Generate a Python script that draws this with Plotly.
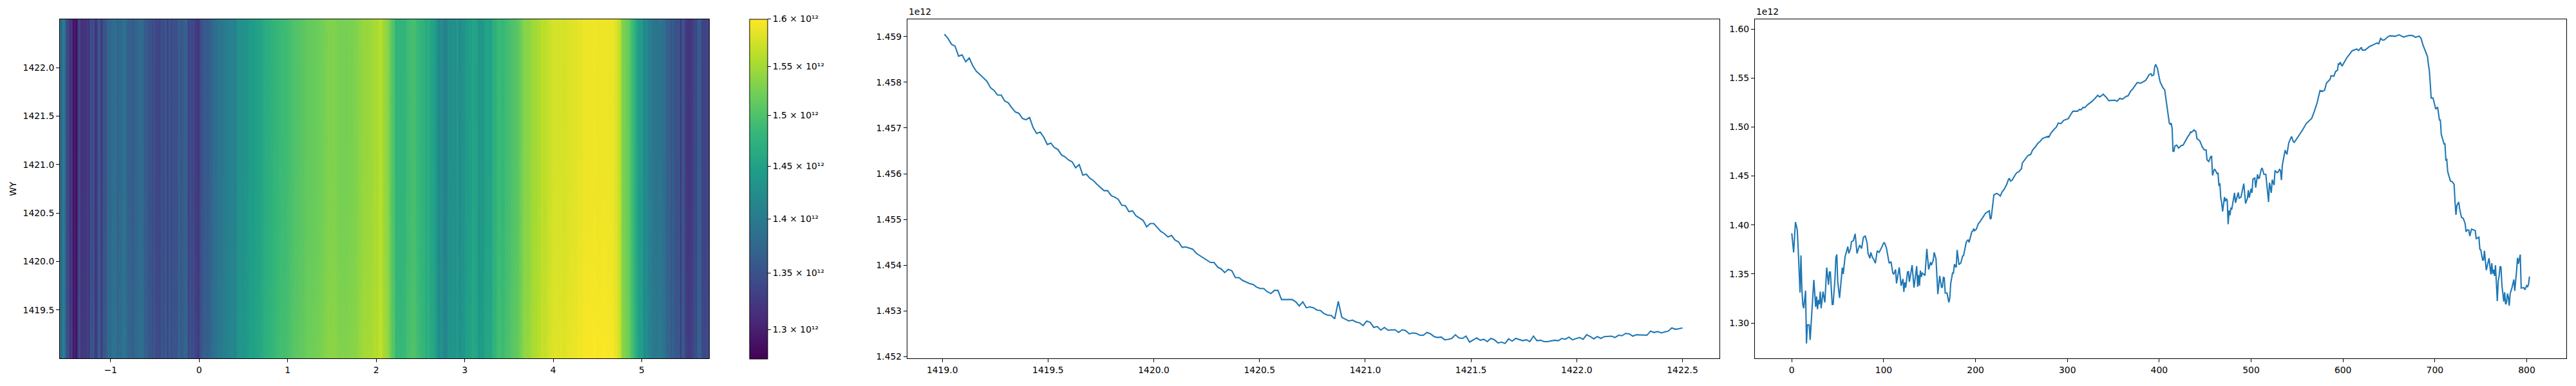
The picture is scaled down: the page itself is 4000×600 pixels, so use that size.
import numpy as np
import plotly.graph_objects as go

# profile along the wavenumber axis, averaged over WY (right panel and heatmap columns)
profile_idx = [
    0, 2, 4, 6, 7, 9, 10, 11, 12, 13, 15, 16, 17, 19, 20, 22, 24, 26, 27, 28, 29, 30, 31, 32, 34, 36, 38, 40, 41, 42,
    44, 45, 47, 48, 49, 50, 52, 55, 56, 58, 61, 62, 64, 65, 67, 69, 71, 73, 74, 76, 78, 80, 82, 83, 85, 86, 88, 89, 91, 93,
    95, 98, 100, 101, 103, 106, 108, 110, 111, 113, 114, 115, 117, 119, 121, 122, 123, 124, 126, 127, 128, 131, 133, 136, 137, 138, 139, 140, 141, 142,
    145, 147, 149, 151, 152, 154, 155, 157, 159, 161, 163, 164, 165, 166, 167, 169, 171, 172, 173, 175, 176, 177, 179, 180, 182, 184, 186, 187, 189,
    190, 192, 193, 196, 197, 198, 199, 201, 203, 205, 207, 211, 215, 216, 217, 219, 220, 223, 225, 227, 229, 231, 234, 236, 237, 238, 240, 243, 245, 247,
    250, 251, 254, 257, 260, 262, 265, 268, 270, 273, 276, 279, 280, 282, 286, 288, 290, 293, 296, 301, 303, 306, 308, 311, 313, 315, 317, 319, 322, 327,
    331, 333, 335, 337, 339, 342, 345, 349, 352, 354, 357, 360, 364, 366, 369, 371, 374, 376, 380, 385, 387, 389, 391, 392, 394, 395, 396, 398,
    400, 401, 404, 406, 407, 409, 411, 412, 413, 414, 415, 416, 417, 419, 421, 424, 426, 431, 433, 434, 435, 438, 440, 441, 444, 447, 449, 451, 452, 454,
    456, 457, 458, 460, 461, 463, 464, 465, 466, 467, 468, 469, 471, 472, 473, 474, 475, 476, 477, 478, 479, 482, 483, 486, 487, 489, 492, 494, 496, 497,
    498, 500, 501, 502, 504, 505, 507, 508, 509, 511, 512, 514, 516, 517, 519, 520, 522, 523, 525, 526, 528, 529, 531, 532, 533, 534, 536, 537, 539, 541,
    544, 546, 547, 553, 556, 560, 564, 566, 569, 572, 575, 578,
    580, 582, 586, 587, 590, 592, 594, 595, 596, 597, 599, 601, 604, 607, 610, 615, 617, 620, 621, 624, 629, 633, 637, 639, 641, 643, 645, 649, 651, 657,
    661, 666, 672, 676, 679, 683, 685, 687, 692, 693, 694, 695, 696, 698, 700, 701, 703, 704, 705, 706, 707, 710, 711, 712, 713, 714, 717, 719, 721, 722,
    723, 724, 726, 727, 729, 731, 733, 734, 735, 737, 738, 740, 743, 744, 745, 748, 749, 750, 752, 753, 754, 756, 759, 761, 762, 763, 764, 765, 766, 768,
    769, 770, 771, 772, 773, 775, 776, 777, 778, 779, 780, 781, 782, 784, 786, 787, 789, 790, 791, 793, 794, 797, 798, 800, 801, 802, 803,
]
profile_val = [
    1.3915, 1.372, 1.403, 1.395, 1.375, 1.331, 1.369, 1.334, 1.319, 1.315, 1.333, 1.279, 1.298, 1.298, 1.2826, 1.3165, 1.344, 1.3165, 1.327, 1.314, 1.3235, 1.319, 1.332, 1.315, 1.332, 1.321, 1.3565, 1.339, 1.352, 1.352,
    1.319, 1.319, 1.345, 1.3665, 1.37, 1.3426, 1.3256, 1.3565, 1.35, 1.3676, 1.378, 1.371, 1.376, 1.383, 1.384, 1.391, 1.371, 1.377, 1.3795, 1.376, 1.3876, 1.3887, 1.3817, 1.371, 1.366, 1.372, 1.3665, 1.3654, 1.361, 1.3737,
    1.372, 1.3774, 1.3817, 1.3817, 1.3767, 1.361, 1.3626, 1.351, 1.3496, 1.3546, 1.3404, 1.346, 1.3567, 1.338, 1.345, 1.3317, 1.3415, 1.336, 1.352, 1.3524, 1.342, 1.359, 1.336, 1.358, 1.337, 1.349, 1.338, 1.3535, 1.347, 1.351,
    1.3485, 1.3756, 1.3546, 1.362, 1.359, 1.364, 1.372, 1.3654, 1.3295, 1.348, 1.336, 1.337, 1.3465, 1.346, 1.3306, 1.3306, 1.321, 1.325, 1.3404, 1.351, 1.351, 1.36, 1.3567, 1.3745, 1.3596, 1.3613, 1.3683, 1.3688, 1.377,
    1.3828, 1.385, 1.3822, 1.3933, 1.3937, 1.3963, 1.3941, 1.3959, 1.4013, 1.4035, 1.4067, 1.4122, 1.4144, 1.4061, 1.4068, 1.4252, 1.4307, 1.4322, 1.4313, 1.4296, 1.4339, 1.4361, 1.4415, 1.447, 1.4474, 1.4448, 1.4459, 1.4509, 1.4535, 1.4542,
    1.4574, 1.4633, 1.4672, 1.4709, 1.472, 1.4763, 1.4796, 1.4835, 1.485, 1.4883, 1.4894, 1.4905, 1.4898, 1.4937, 1.4981, 1.4998, 1.504, 1.5035, 1.5068, 1.5085, 1.5118, 1.5161, 1.5161, 1.5161, 1.5179, 1.5176, 1.52, 1.5198, 1.5227, 1.5263,
    1.5301, 1.5324, 1.5307, 1.5318, 1.5335, 1.5307, 1.527, 1.527, 1.5274, 1.5263, 1.5292, 1.5285, 1.5313, 1.5318, 1.5368, 1.5387, 1.5427, 1.5453, 1.5448, 1.5474, 1.5503, 1.5535, 1.5544, 1.5524, 1.5531, 1.5611, 1.564, 1.56,
    1.5502, 1.5459, 1.54, 1.5378, 1.5306, 1.5187, 1.5039, 1.5028, 1.5039, 1.4987, 1.4752, 1.4752, 1.4806, 1.4815, 1.4785, 1.4811, 1.4815, 1.49, 1.4926, 1.4948, 1.4945, 1.497, 1.4952, 1.4882, 1.4861, 1.4795, 1.4767, 1.4767, 1.4665, 1.4648,
    1.4698, 1.47, 1.4506, 1.4571, 1.4561, 1.4524, 1.4528, 1.44, 1.4426, 1.4274, 1.4226, 1.4139, 1.4285, 1.4241, 1.4269, 1.4252, 1.4008, 1.4148, 1.41, 1.4171, 1.4165, 1.4328, 1.4226, 1.4332, 1.4274, 1.4285, 1.4422, 1.4219, 1.4274, 1.4356,
    1.4278, 1.4372, 1.4328, 1.4469, 1.448, 1.4382, 1.4517, 1.4476, 1.448, 1.4567, 1.4582, 1.4517, 1.4517, 1.4426, 1.4235, 1.4432, 1.4328, 1.4463, 1.4408, 1.4556, 1.4535, 1.4535, 1.4567, 1.4556, 1.4458, 1.4611, 1.4709, 1.4763, 1.472, 1.4839,
    1.4904, 1.485, 1.4843, 1.4926, 1.497, 1.5035, 1.5067, 1.5089, 1.5165, 1.5252, 1.5372, 1.5365,
    1.5376, 1.5448, 1.5487, 1.5524, 1.5518, 1.5567, 1.5578, 1.5644, 1.5639, 1.5661, 1.5622, 1.5654, 1.5704, 1.5741, 1.5778, 1.5796, 1.5781, 1.5813, 1.5785, 1.5785, 1.5822, 1.5839, 1.5857, 1.585, 1.5905, 1.5887, 1.5889, 1.5922, 1.5931, 1.5926,
    1.5941, 1.5918, 1.5935, 1.5933, 1.5915, 1.5928, 1.5905, 1.5839, 1.572, 1.5639, 1.5578, 1.5448, 1.5296, 1.5296, 1.5231, 1.5183, 1.5204, 1.5143, 1.5072, 1.5072, 1.4926, 1.4828, 1.4828, 1.4665, 1.4669, 1.4545, 1.4448, 1.4441, 1.4415, 1.423,
    1.4104, 1.4198, 1.4235, 1.4165, 1.4078, 1.4067, 1.4013, 1.393, 1.3948, 1.3948, 1.3887, 1.3958, 1.3948, 1.3943, 1.3861, 1.3876, 1.3752, 1.3748, 1.3643, 1.3643, 1.3737, 1.3539, 1.3661, 1.3495, 1.3611, 1.3502, 1.3545, 1.348, 1.3589, 1.3224,
    1.3426, 1.348, 1.3578, 1.3571, 1.3387, 1.3219, 1.3313, 1.3191, 1.3208, 1.33, 1.3263, 1.3176, 1.33, 1.3361, 1.3443, 1.3328, 1.3535, 1.3665, 1.3604, 1.3698, 1.3356, 1.3361, 1.3339, 1.3382, 1.3371, 1.3393, 1.3474,
]

# profile along WY, averaged over wavenumber (middle panel, units of 1e9)
wy_val = [
    1459.05, 1458.96, 1458.83, 1458.79, 1458.57, 1458.60, 1458.45, 1458.53, 1458.36, 1458.24, 1458.17, 1458.10, 1458.02, 1457.88, 1457.82, 1457.72, 1457.72, 1457.59, 1457.55, 1457.44,
    1457.35, 1457.32, 1457.21, 1457.18, 1457.23, 1457.01, 1456.88, 1456.91, 1456.80, 1456.64, 1456.67, 1456.57, 1456.53, 1456.41, 1456.37, 1456.30, 1456.26, 1456.13, 1456.20, 1455.97,
    1455.99, 1455.90, 1455.85, 1455.77, 1455.70, 1455.63, 1455.63, 1455.52, 1455.49, 1455.44, 1455.31, 1455.30, 1455.17, 1455.19, 1455.08, 1455.03, 1454.98, 1454.84, 1454.91, 1454.91,
    1454.82, 1454.74, 1454.69, 1454.62, 1454.65, 1454.55, 1454.51, 1454.39, 1454.40, 1454.38, 1454.35, 1454.26, 1454.21, 1454.17, 1454.12, 1454.06, 1454.06, 1453.96, 1453.92, 1453.84,
    1453.91, 1453.88, 1453.73, 1453.73, 1453.67, 1453.63, 1453.60, 1453.58, 1453.52, 1453.49, 1453.49, 1453.42, 1453.38, 1453.45, 1453.45, 1453.25, 1453.25, 1453.26,
    1453.25, 1453.20, 1453.11, 1453.20, 1453.07, 1453.09, 1453.07, 1453.02, 1453.01, 1452.94, 1452.91, 1452.90, 1452.83, 1453.21, 1452.86, 1452.82, 1452.78, 1452.80, 1452.76, 1452.74,
    1452.68, 1452.78, 1452.75, 1452.64, 1452.66, 1452.58, 1452.64, 1452.58, 1452.59, 1452.59, 1452.53, 1452.59, 1452.57, 1452.50, 1452.52, 1452.51, 1452.47, 1452.47, 1452.53, 1452.50,
    1452.44, 1452.42, 1452.43, 1452.37, 1452.38, 1452.40, 1452.48, 1452.41, 1452.40, 1452.45, 1452.32, 1452.37, 1452.41, 1452.36, 1452.38, 1452.33, 1452.40, 1452.37, 1452.30, 1452.32,
    1452.29, 1452.39, 1452.34, 1452.40, 1452.38, 1452.35, 1452.37, 1452.33, 1452.45, 1452.35, 1452.36, 1452.33, 1452.33, 1452.34, 1452.36, 1452.35, 1452.40, 1452.38, 1452.43, 1452.37,
    1452.40, 1452.42, 1452.38, 1452.48, 1452.44, 1452.39, 1452.44, 1452.40, 1452.44, 1452.44, 1452.45, 1452.42, 1452.47, 1452.46, 1452.51, 1452.50, 1452.45, 1452.48, 1452.48, 1452.48,
    1452.47, 1452.56, 1452.53, 1452.55, 1452.52, 1452.54, 1452.56, 1452.63, 1452.60, 1452.61, 1452.63,
]

cbar_ticks = [1.3, 1.35, 1.4, 1.45, 1.5, 1.55, 1.6]
cbar_labels = ["1.3", "1.35", "1.4", "1.45", "1.5", "1.55", "1.6"]
wy_ticks = [1452, 1453, 1454, 1455, 1456, 1457, 1458, 1459]
wy_labels = ["1.452", "1.453", "1.454", "1.455", "1.456", "1.457", "1.458", "1.459"]
profile_ticks = [1.30, 1.35, 1.40, 1.45, 1.50, 1.55, 1.60]
profile_labels = ["1.30", "1.35", "1.40", "1.45", "1.50", "1.55", "1.60"]

WIDTH, HEIGHT = 4000, 600
TOP, BOTTOM = 30, 562
BLUE = "#1f77b4"
FONT = "DejaVu Sans"
FONT_SIZE = 13.9

profile_idx = np.array(profile_idx)
profile = np.array(profile_val) * 1e12
wy = np.array(wy_val) * 1e9
wy_x = np.linspace(1419.01, 1422.5, len(wy))
wave_x = -1.572 + profile_idx * 7.332 / 803

# heatmap is shown on a log colour scale, like the colour bar spacing in the picture
z = np.log10(profile[None, :] + (wy[:, None] - wy.mean()))

fig = go.Figure()
fig.add_trace(go.Heatmap(
    x=wave_x, y=wy_x, z=z, colorscale="Viridis",
    zmin=np.log10(1.275e12), zmax=np.log10(1.6e12),
    colorbar=dict(
        x=1164 / WIDTH, xanchor="left", xpad=0, ypad=0,
        y=1 - (TOP + BOTTOM) / 2 / HEIGHT, yanchor="middle",
        len=(BOTTOM - TOP) / HEIGHT, lenmode="fraction",
        thickness=27.5, thicknessmode="pixels",
        outlinecolor="black", outlinewidth=1,
        ticks="outside", ticklen=5, tickwidth=1, tickcolor="black",
        tickvals=[float(np.log10(t * 1e12)) for t in cbar_ticks],
        ticktext=[f"{t} \u00d7 10\u00b9\u00b2" for t in cbar_labels],
        tickfont=dict(family=FONT, size=FONT_SIZE, color="black"),
    ),
))
fig.add_trace(go.Scatter(x=wy_x, y=wy, mode="lines", line=dict(color=BLUE, width=2.08),
                         xaxis="x2", yaxis="y2", showlegend=False))
fig.add_trace(go.Scatter(x=profile_idx, y=profile, mode="lines", line=dict(color=BLUE, width=2.08),
                         xaxis="x3", yaxis="y3", showlegend=False))

axis_style = dict(showgrid=False, zeroline=False, showline=True, mirror=True, linecolor="black", linewidth=1,
                  ticks="outside", ticklen=5, tickwidth=1, tickcolor="black",
                  tickfont=dict(family=FONT, size=FONT_SIZE, color="black"))
y_domain = [1 - BOTTOM / HEIGHT, 1 - TOP / HEIGHT]

fig.update_layout(
    width=WIDTH, height=HEIGHT, autosize=False,
    margin=dict(l=0, r=0, t=0, b=0),
    paper_bgcolor="white", plot_bgcolor="white",
    font=dict(family=FONT, size=FONT_SIZE, color="black"),
    xaxis=dict(domain=[93 / WIDTH, 1101 / WIDTH], anchor="y", range=[-1.572, 5.76],
               tickvals=[-1, 0, 1, 2, 3, 4, 5], **axis_style),
    yaxis=dict(domain=y_domain, anchor="x", range=[1419.0, 1422.5],
               tickvals=[1419.5, 1420.0, 1420.5, 1421.0, 1421.5, 1422.0],
               ticktext=["1419.5", "1420.0", "1420.5", "1421.0", "1421.5", "1422.0"],
               title=dict(text="WY", standoff=6, font=dict(family=FONT, size=FONT_SIZE)), **axis_style),
    xaxis2=dict(domain=[1409 / WIDTH, 2670 / WIDTH], anchor="y2", range=[1418.835, 1422.675],
                tickvals=[1419, 1419.5, 1420, 1420.5, 1421, 1421.5, 1422, 1422.5],
                ticktext=["1419.0", "1419.5", "1420.0", "1420.5", "1421.0", "1421.5", "1422.0", "1422.5"],
                **axis_style),
    yaxis2=dict(domain=y_domain, anchor="x2", range=[1451.96e9, 1459.38e9],
                tickvals=[t * 1e9 for t in wy_ticks], ticktext=wy_labels, **axis_style),
    xaxis3=dict(domain=[2725 / WIDTH, 3985 / WIDTH], anchor="y3", range=[-40.15, 843.15],
                tickvals=[0, 100, 200, 300, 400, 500, 600, 700, 800], **axis_style),
    yaxis3=dict(domain=y_domain, anchor="x3", range=[1.2637e12, 1.6101e12],
                tickvals=[t * 1e12 for t in profile_ticks], ticktext=profile_labels, **axis_style),
)

# matplotlib style offset text above the two line panels
for ref in ["x2", "x3"]:
    fig.add_annotation(text="1e12", xref=f"{ref} domain", yref="paper", x=0, y=y_domain[1],
                       xanchor="left", yanchor="bottom", yshift=2, showarrow=False,
                       font=dict(family=FONT, size=FONT_SIZE, color="black"))

fig.write_html("out.html", config={"displayModeBar": False}, post_script="document.body.style.margin='0';")
